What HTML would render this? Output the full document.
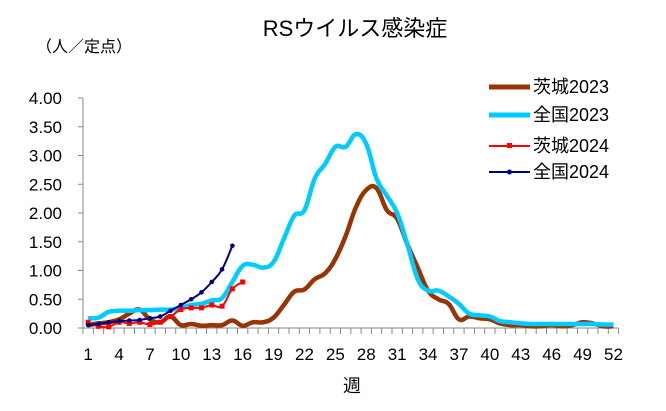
<!DOCTYPE html>
<html><head><meta charset="utf-8"><style>
body{margin:0;background:#fff;}
svg text{font-family:"Liberation Sans","Noto Sans CJK JP",sans-serif;fill:#000;}
</style></head><body>
<svg id="c" width="666" height="406" xmlns="http://www.w3.org/2000/svg">
<text x="355" y="36" font-size="22" text-anchor="middle">RSウイルス感染症</text>
<text x="36" y="52" font-size="16">（人／定点）</text>
<g id="ax"></g>
<g id="series"></g>
<g font-size="18">
<line x1="489" y1="87" x2="530" y2="87" stroke="#993300" stroke-width="5"/><text x="533" y="93">茨城2023</text>
<line x1="489" y1="115" x2="530" y2="115" stroke="#00ccff" stroke-width="5"/><text x="533" y="121">全国2023</text>
<line x1="489" y1="146" x2="530" y2="146" stroke="#ff0000" stroke-width="2"/><rect x="507" y="143" width="5" height="5" fill="#ff0000"/><text x="533" y="152">茨城2024</text>
<line x1="489" y1="172" x2="530" y2="172" stroke="#000080" stroke-width="2"/><circle cx="509.5" cy="172" r="2.5" fill="#000080"/><text x="533" y="178">全国2024</text>
</g>
<text x="352" y="392" font-size="18" text-anchor="middle">週</text>
</svg>
<script>
var X0=83,W=10.3,Y0=328,S=57.5;
function X(i){return X0+W*(i-0.5);}function Y(v){return Y0-v*S;}
var ax=document.getElementById('ax'),h='';
h+='<line x1="83" y1="98" x2="83" y2="328" stroke="#888" stroke-width="1"/>';
h+='<line x1="83" y1="328" x2="'+(X0+52*W)+'" y2="328" stroke="#888" stroke-width="1"/>';
for(var k=0;k<=8;k++){var y=Y(k*0.5);h+='<line x1="78" y1="'+y+'" x2="83" y2="'+y+'" stroke="#888"/>';
h+='<text x="62" y="'+(y+6)+'" font-size="17" text-anchor="end">'+(k*0.5).toFixed(2)+'</text>';}
for(var i=0;i<=52;i++){var x=X0+W*i;h+='<line x1="'+x+'" y1="328" x2="'+x+'" y2="334" stroke="#888"/>';}
for(var i=1;i<=52;i+=3){h+='<text x="'+X(i)+'" y="360" font-size="17" text-anchor="middle">'+i+'</text>';}
ax.innerHTML=h;
var b23=[0.05,0.08,0.1,0.15,0.25,0.32,0.15,0.1,0.2,0.05,0.07,0.04,0.05,0.05,0.13,0.04,0.1,0.1,0.18,0.4,0.63,0.67,0.85,0.95,1.2,1.6,2.1,2.4,2.43,2.05,1.9,1.45,1.05,0.65,0.5,0.42,0.15,0.2,0.17,0.15,0.08,0.05,0.05,0.03,0.03,0.05,0.03,0.05,0.1,0.08,0.03,0.03];
var c23=[0.17,0.18,0.28,0.3,0.3,0.31,0.31,0.32,0.32,0.35,0.4,0.42,0.48,0.52,0.8,1.08,1.1,1.05,1.15,1.55,1.95,2.05,2.6,2.85,3.15,3.15,3.37,3.2,2.6,2.3,2.0,1.45,0.85,0.65,0.65,0.55,0.42,0.25,0.22,0.2,0.12,0.1,0.08,0.07,0.07,0.07,0.07,0.07,0.07,0.07,0.06,0.06];
var r24=[0.1,0.03,0.02,0.1,0.08,0.1,0.06,0.1,0.2,0.32,0.35,0.35,0.4,0.38,0.68,0.8];
var n24=[0.05,0.07,0.1,0.12,0.13,0.14,0.17,0.2,0.3,0.4,0.5,0.62,0.8,1.02,1.43];
function smooth(a){var p=a.map(function(v,i){return [X(i+1),Y(v)];});var d='M'+p[0][0]+','+p[0][1];
for(var i=0;i<p.length-1;i++){var p0=p[i>0?i-1:i],p1=p[i],p2=p[i+1],p3=p[i+2<p.length?i+2:i+1],t=0.2;
d+=' C'+(p1[0]+(p2[0]-p0[0])*t)+','+(p1[1]+(p2[1]-p0[1])*t)+' '+(p2[0]-(p3[0]-p1[0])*t)+','+(p2[1]-(p3[1]-p1[1])*t)+' '+p2[0]+','+p2[1];}return d;}
var s='';
s+='<path d="'+smooth(b23)+'" fill="none" stroke="#993300" stroke-width="4.5" stroke-linejoin="round"/>';
s+='<path d="'+smooth(c23)+'" fill="none" stroke="#00ccff" stroke-width="4.5" stroke-linejoin="round"/>';
s+='<path d="'+smooth(r24)+'" fill="none" stroke="#ff0000" stroke-width="2"/>';
r24.forEach(function(v,i){s+='<rect x="'+(X(i+1)-2.5)+'" y="'+(Y(v)-2.5)+'" width="5" height="5" fill="#ff0000"/>';});
s+='<path d="'+smooth(n24)+'" fill="none" stroke="#000080" stroke-width="2"/>';
n24.forEach(function(v,i){s+='<circle cx="'+X(i+1)+'" cy="'+Y(v)+'" r="2.3" fill="#000080"/>';});
document.getElementById('series').innerHTML=s;
</script>
</body></html>
